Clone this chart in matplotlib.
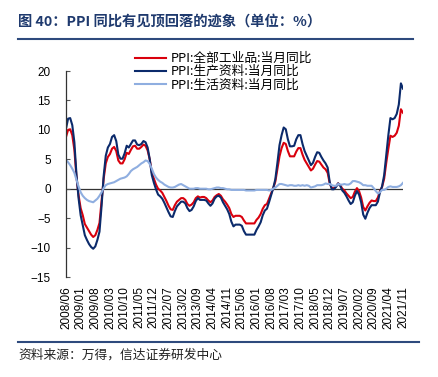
import numpy as np
import pandas as pd
import matplotlib
matplotlib.use("Agg")
from matplotlib import pyplot as plt
from matplotlib.lines import Line2D

plt.rcParams['font.family'] = ['Liberation Sans', 'Noto Sans CJK SC', 'DejaVu Sans']
CJK = ['Noto Sans CJK SC', 'DejaVu Sans']

# monthly, 2008/06 .. 2021/11
months = pd.period_range("2008-06", "2021-11", freq="M")

ppi_all = [
    8.8, 10.0, 10.1, 9.1, 6.6, 2.0, -1.1,
    -3.3, -4.5, -6.0, -6.6, -7.2, -7.8, -8.2, -7.9, -7.0, -5.8, -2.1, 1.7,
    4.3, 5.4, 5.9, 6.8, 7.1, 6.4, 4.8, 4.3, 4.3, 5.0, 6.1, 5.9,
    6.6, 7.2, 7.3, 6.8, 6.8, 7.1, 7.5, 7.3, 6.5, 5.0, 2.7, 1.7,
    0.7, 0.0, -0.3, -0.7, -1.4, -2.1, -2.9, -3.5, -3.6, -2.8, -2.2, -1.9,
    -1.6, -1.6, -1.9, -2.6, -2.9, -2.7, -2.3, -1.6, -1.3, -1.5, -1.4, -1.4,
    -1.6, -2.0, -2.3, -2.0, -1.4, -1.1, -0.9, -1.2, -1.8, -2.2, -2.7, -3.3,
    -4.3, -4.8, -4.6, -4.6, -4.6, -4.8, -5.4, -5.9, -5.9, -5.9, -5.9, -5.9,
    -5.3, -4.9, -4.3, -3.4, -2.8, -2.6, -1.7, -0.8, 0.1, 1.2, 3.3, 5.5,
    6.9, 7.8, 7.6, 6.4, 5.5, 5.5, 5.5, 6.3, 6.9, 6.9, 5.8, 4.9,
    4.3, 3.7, 3.1, 3.4, 4.1, 4.7, 4.6, 4.1, 3.6, 3.3, 2.7, 0.9,
    0.1, 0.1, 0.4, 0.9, 0.6, 0.0, -0.3, -0.8, -1.2, -1.6, -1.4, -0.5,
    0.1, -0.4, -1.5, -3.1, -3.7, -3.0, -2.4, -2.0, -2.1, -2.1, -1.5, -0.4,
    0.3, 1.7, 4.4, 6.8, 9.0, 8.8, 9.0, 9.5, 10.7, 13.5, 12.9,
]

ppi_prod = [
    10.2, 11.9, 12.0, 10.8, 7.9, 2.4, -1.6,
    -4.5, -6.2, -7.9, -8.7, -9.4, -9.9, -10.2, -9.8, -8.7, -7.3, -2.9, 2.2,
    5.6, 7.0, 7.6, 8.8, 9.1, 8.1, 5.8, 5.1, 5.1, 6.0, 7.3, 7.0,
    7.6, 8.2, 8.2, 7.5, 7.4, 7.6, 8.1, 7.9, 7.0, 5.0, 2.3, 1.0,
    -0.1, -1.0, -1.3, -1.7, -2.4, -3.2, -4.0, -4.7, -4.8, -3.8, -3.0, -2.6,
    -2.2, -2.2, -2.5, -3.3, -3.8, -3.6, -3.0, -2.1, -1.6, -1.9, -1.9, -1.9,
    -2.0, -2.5, -2.9, -2.5, -1.7, -1.3, -1.2, -1.5, -2.3, -2.9, -3.5, -4.3,
    -5.6, -6.4, -6.1, -6.1, -6.1, -6.3, -7.2, -7.8, -7.8, -7.8, -7.8, -7.8,
    -7.0, -6.4, -5.7, -4.5, -3.7, -3.4, -2.3, -1.1, 0.1, 1.6, 4.4, 7.4,
    9.1, 10.4, 10.1, 8.4, 7.2, 7.2, 7.3, 8.4, 9.1, 9.1, 7.6, 6.4,
    5.6, 4.8, 4.0, 4.4, 5.4, 6.2, 6.1, 5.4, 4.8, 4.3, 3.6, 1.1,
    -0.1, -0.1, 0.3, 0.9, 0.5, -0.3, -0.7, -1.3, -2.0, -2.6, -2.3, -1.2,
    -0.4, -1.0, -2.3, -4.4, -5.1, -4.1, -3.3, -2.8, -2.8, -2.8, -2.2, -0.6,
    0.4, 2.3, 5.7, 9.1, 12.0, 11.8, 12.0, 12.7, 14.3, 17.9, 17.0,
]

ppi_cons = [
    4.9, 4.5, 4.0, 3.4, 2.7, 1.5, 0.4,
    -0.6, -1.2, -1.6, -1.9, -2.1, -2.2, -2.3, -2.0, -1.7, -1.2, -0.6, 0.1,
    0.6, 0.8, 0.9, 1.0, 1.1, 1.3, 1.5, 1.7, 1.8, 1.9, 2.1, 2.5,
    3.0, 3.3, 3.5, 3.7, 4.0, 4.3, 4.5, 4.8, 4.7, 4.2, 3.4, 2.5,
    1.9, 1.5, 1.2, 1.0, 0.7, 0.5, 0.3, 0.2, 0.2, 0.3, 0.5, 0.7,
    0.8, 0.6, 0.4, 0.2, 0.0, 0.0, 0.0, 0.1, 0.1, 0.0, 0.0, 0.0,
    0.0, -0.1, -0.1, 0.0, 0.1, 0.2, 0.2, 0.1, 0.1, 0.0, -0.1, -0.1,
    -0.2, -0.2, -0.2, -0.2, -0.2, -0.2, -0.2, -0.3, -0.3, -0.3, -0.3, -0.3,
    -0.2, -0.2, -0.2, -0.2, -0.2, -0.2, -0.3, -0.2, 0.0, 0.2, 0.5, 0.8,
    0.8, 0.7, 0.6, 0.5, 0.6, 0.6, 0.5, 0.5, 0.6, 0.5, 0.6, 0.5,
    0.6, 0.5, 0.2, 0.3, 0.4, 0.6, 0.6, 0.6, 0.7, 0.9, 0.8, 0.8,
    0.6, 0.5, 0.5, 0.8, 0.7, 0.7, 0.8, 0.7, 0.7, 0.9, 1.3, 1.3,
    1.2, 1.1, 0.9, 0.6, 0.6, 0.5, 0.5, 0.5, 0.1, -0.4, -0.8, -0.6,
    -0.2, -0.2, 0.0, 0.3, 0.4, 0.3, 0.3, 0.3, 0.4, 0.6, 1.0,
]

labels = ["PPI:全部工业品:当月同比", "PPI:生产资料:当月同比", "PPI:生活资料:当月同比"]
colors = ["#D9000D", "#0B2A6B", "#8FAEE0"]

title = "图 40：PPI 同比有见顶回落的迹象（单位：%）"
source = "资料来源：万得，信达证券研发中心"

fig = plt.figure(figsize=(4.39, 3.77), dpi=100)
ax = fig.add_axes([66 / 439, 1 - 277 / 377, 337 / 439, 206 / 377])

x = np.arange(len(months))
for ys, c in zip([ppi_all, ppi_prod, ppi_cons], colors):
    ax.plot(x, ys, color=c, lw=1.5, solid_joinstyle="round")

ax.axhline(0, color="#333333", lw=0.9, zorder=0)
ax.set_xlim(0, len(months) - 1)
ax.set_ylim(-15, 20)
ax.set_yticks(range(-15, 21, 5))
ticks = x[::7]
ax.set_xticks(ticks)
ax.set_xticklabels([months[i].strftime("%Y/%m") for i in ticks], rotation=90)
ax.tick_params(axis="x", length=0, pad=6.5, labelsize=8.5)
ax.tick_params(axis="y", direction="in", length=3, width=0.8, pad=11,
               labelsize=8.5, color="#555555")
for s in ["top", "right", "bottom"]:
    ax.spines[s].set_visible(False)
ax.spines["left"].set_color("#333333")
ax.spines["left"].set_linewidth(0.9)

handles = [Line2D([], [], color=c, lw=1.5) for c in colors]
fig.legend(handles, labels, loc="upper left",
           bbox_to_anchor=(135 / 439, 1 - 52 / 377), frameon=False,
           borderpad=0, borderaxespad=0, labelspacing=0.02,
           handlelength=2.4, handletextpad=0.4,
           prop={"family": CJK, "size": 9.2})

fig.text(18 / 439, 1 - 22 / 377, title, family=CJK, fontsize=10.3,
         fontweight="bold", color="#1F3A6E", va="center", ha="left")
fig.add_artist(Line2D([18 / 439, 413 / 439], [1 - 38.5 / 377] * 2,
                      color="#2E4A7D", lw=1.5))
fig.add_artist(Line2D([18 / 439, 419 / 439], [1 - 342 / 377] * 2,
                      color="#2E4A7D", lw=1.5))
fig.text(18 / 439, 1 - 355 / 377, source, family=CJK, fontsize=9.2,
         style="italic", color="#222222", va="center", ha="left")

fig.savefig("out.png", dpi=100)
